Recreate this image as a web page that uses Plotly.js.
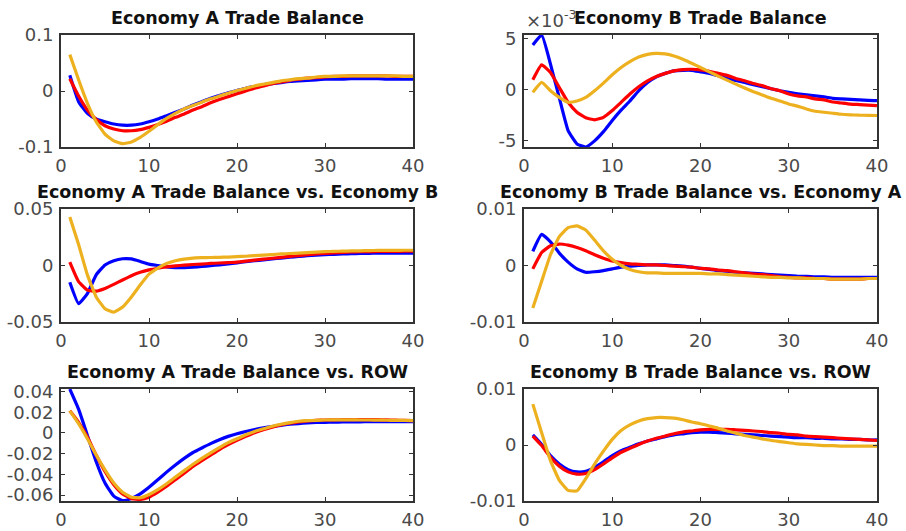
<!DOCTYPE html>
<html>
<head>
<meta charset="utf-8">
<script src="https://cdn.plot.ly/plotly-3.0.1.min.js"></script>
<style>html,body{margin:0;padding:0;background:#fff;}#chart{width:906px;height:531px;}</style>
</head>
<body>
<div id="chart"></div>
<script>
// ---- data ----
const periods = [1,2,3,4,5,6,7,8,9,10,11,12,13,14,15,16,17,18,19,20,21,22,23,24,25,26,27,28,29,30,31,32,33,34,35,36,37,38,39,40];

const panelTitles = [
  "Economy A Trade Balance",
  "Economy B Trade Balance",
  "Economy A Trade Balance vs. Economy B",
  "Economy B Trade Balance vs. Economy A",
  "Economy A Trade Balance vs. ROW",
  "Economy B Trade Balance vs. ROW"
];

// Panel 1: Economy A Trade Balance
const p1Blue = [0.028,-0.019,-0.040,-0.050,-0.055,-0.059,-0.061,-0.061,-0.059,-0.055,-0.050,-0.044,-0.038,-0.032,-0.025,-0.019,-0.013,-0.008,-0.003,0.001,0.005,0.008,0.011,0.013,0.015,0.017,0.018,0.019,0.020,0.021,0.021,0.021,0.022,0.022,0.022,0.022,0.021,0.021,0.021,0.021];
const p1Red = [0.022,-0.009,-0.034,-0.051,-0.062,-0.068,-0.071,-0.071,-0.069,-0.065,-0.060,-0.054,-0.047,-0.041,-0.034,-0.028,-0.021,-0.015,-0.010,-0.005,0.000,0.005,0.009,0.013,0.016,0.019,0.021,0.023,0.024,0.025,0.026,0.026,0.027,0.027,0.027,0.027,0.027,0.026,0.026,0.026];
const p1Orange = [0.065,0.020,-0.022,-0.055,-0.077,-0.089,-0.094,-0.091,-0.083,-0.072,-0.060,-0.049,-0.040,-0.032,-0.026,-0.020,-0.014,-0.009,-0.004,0.001,0.005,0.009,0.012,0.015,0.018,0.020,0.022,0.023,0.025,0.026,0.026,0.027,0.027,0.027,0.027,0.027,0.027,0.027,0.026,0.026];

// Panel 2: Economy B Trade Balance
const p2Blue = [0.00437,0.00535,0.0025,-0.0008,-0.0040,-0.0053,-0.0056,-0.0050,-0.0041,-0.0030,-0.0020,-0.0011,-0.0001,0.0007,0.00126,0.0016,0.00185,0.0019,0.0019,0.00175,0.0016,0.00136,0.0011,0.0009,0.0007,0.0005,0.0003,0.0001,-0.0001,-0.00026,-0.0004,-0.0005,-0.0006,-0.0007,-0.00084,-0.0009,-0.00095,-0.0010,-0.00105,-0.00107];
const p2Red = [0.00097,0.00243,0.00168,0.00022,-0.00123,-0.0022,-0.00275,-0.00294,-0.0027,-0.00204,-0.00123,-0.00042,0.00029,0.00087,0.0013,0.0016,0.00184,0.00197,0.0020,0.00194,0.0018,0.0016,0.0014,0.0011,0.00087,0.0006,0.0004,0.0001,-0.0001,-0.00042,-0.0006,-0.0007,-0.0009,-0.0010,-0.0012,-0.0013,-0.0014,-0.00145,-0.0015,-0.00155];
const p2Orange = [-0.00026,0.00071,-0.0001,-0.00075,-0.00123,-0.0011,-0.00075,-0.0001,0.00065,0.00146,0.00217,0.00275,0.0032,0.00346,0.00356,0.0035,0.0033,0.00298,0.00259,0.00217,0.00175,0.00133,0.00094,0.00055,0.00016,-0.0002,-0.00051,-0.00084,-0.0011,-0.00139,-0.0016,-0.00188,-0.0021,-0.0022,-0.0023,-0.0024,-0.00245,-0.00249,-0.0025,-0.00252];

// Panel 3: Economy A Trade Balance vs. Economy B
const p3Blue = [-0.0149,-0.0338,-0.0248,-0.0083,0.0005,0.0042,0.0060,0.0058,0.0036,0.0012,0.0000,-0.0012,-0.0018,-0.0018,-0.0015,-0.0009,-0.0002,0.0006,0.0015,0.0024,0.0033,0.0042,0.0050,0.0058,0.0066,0.0073,0.0080,0.0087,0.0092,0.0096,0.0099,0.0102,0.0104,0.0106,0.0108,0.0109,0.0110,0.0110,0.0110,0.0110];
const p3Red = [0.0030,-0.0143,-0.0218,-0.0227,-0.0203,-0.0167,-0.0128,-0.0090,-0.0060,-0.0039,-0.0024,-0.0012,-0.0003,0.0003,0.0009,0.0013,0.0018,0.0022,0.0026,0.0030,0.0039,0.0048,0.0056,0.0064,0.0072,0.0080,0.0088,0.0096,0.0102,0.0108,0.0112,0.0116,0.0120,0.0122,0.0123,0.0124,0.0125,0.0125,0.0126,0.0126];
const p3Orange = [0.0430,0.0186,-0.0083,-0.0278,-0.0382,-0.0413,-0.0368,-0.0278,-0.0173,-0.0077,-0.0023,0.0018,0.0042,0.0057,0.0066,0.0069,0.0071,0.0072,0.0075,0.0078,0.0082,0.0087,0.0092,0.0097,0.0102,0.0106,0.0110,0.0114,0.0118,0.0123,0.0125,0.0127,0.0129,0.0130,0.0132,0.0133,0.0134,0.0134,0.0135,0.0135];

// Panel 4: Economy B Trade Balance vs. Economy A
const p4Blue = [0.0025,0.0055,0.0042,0.0022,0.0006,-0.0006,-0.0012,-0.0011,-0.0009,-0.0006,-0.0003,-0.0001,0.0000,0.0001,0.0001,0.0001,0.0000,-0.0001,-0.0003,-0.0005,-0.0007,-0.0009,-0.0010,-0.0012,-0.0013,-0.0014,-0.0015,-0.0016,-0.0017,-0.0018,-0.0019,-0.0019,-0.0020,-0.0020,-0.0021,-0.0021,-0.0021,-0.0021,-0.0021,-0.0021];
const p4Red = [-0.0006,0.0023,0.0035,0.0038,0.0036,0.0032,0.0026,0.0019,0.0013,0.0008,0.0005,0.0003,0.0002,0.0001,0.0001,0.0000,-0.0001,-0.0002,-0.0003,-0.0005,-0.0006,-0.0008,-0.0009,-0.0011,-0.0013,-0.0015,-0.0016,-0.0018,-0.0020,-0.0021,-0.0022,-0.0022,-0.0023,-0.0023,-0.0024,-0.0024,-0.0024,-0.0024,-0.0023,-0.0023];
const p4Orange = [-0.0075,-0.0028,0.0019,0.0051,0.0067,0.0070,0.0063,0.0045,0.0026,0.0011,0.0000,-0.0007,-0.0011,-0.0013,-0.0013,-0.0014,-0.0014,-0.0014,-0.0014,-0.0014,-0.0015,-0.0015,-0.0016,-0.0017,-0.0018,-0.0019,-0.0020,-0.0021,-0.0021,-0.0022,-0.0022,-0.0023,-0.0023,-0.0023,-0.0024,-0.0024,-0.0024,-0.0024,-0.0023,-0.0023];

// Panel 5: Economy A Trade Balance vs. ROW
const p5Blue = [0.0425,0.0230,-0.0024,-0.0278,-0.0484,-0.0611,-0.0655,-0.0633,-0.0589,-0.0525,-0.0452,-0.0379,-0.0310,-0.0246,-0.0189,-0.0145,-0.0103,-0.0065,-0.0033,-0.0008,0.0014,0.0033,0.0049,0.0062,0.0074,0.0084,0.0091,0.0097,0.0101,0.0103,0.0105,0.0106,0.0107,0.0108,0.0109,0.0109,0.0109,0.0109,0.0109,0.0109];
const p5Red = [0.0214,0.0103,-0.0040,-0.0214,-0.0373,-0.0500,-0.0589,-0.0636,-0.0643,-0.0621,-0.0573,-0.0516,-0.0452,-0.0389,-0.0325,-0.0268,-0.0214,-0.0160,-0.0113,-0.0071,-0.0033,0.0002,0.0031,0.0056,0.0078,0.0094,0.0106,0.0116,0.0121,0.0125,0.0127,0.0128,0.0129,0.0129,0.0129,0.0128,0.0126,0.0124,0.0122,0.0120];
const p5Orange = [0.0214,0.0090,-0.0056,-0.0214,-0.0357,-0.0484,-0.0573,-0.0621,-0.0627,-0.0595,-0.0548,-0.0491,-0.0427,-0.0364,-0.0303,-0.0246,-0.0192,-0.0141,-0.0094,-0.0056,-0.0017,0.0014,0.0040,0.0065,0.0084,0.0100,0.0113,0.0119,0.0122,0.0125,0.0126,0.0126,0.0126,0.0125,0.0125,0.0124,0.0123,0.0122,0.0121,0.0120];

// Panel 6: Economy B Trade Balance vs. ROW
const p6Blue = [0.0018,0.0001,-0.0019,-0.0034,-0.0044,-0.0048,-0.0047,-0.0040,-0.0030,-0.0019,-0.0010,-0.0004,0.0002,0.0007,0.0011,0.0015,0.0018,0.0020,0.0022,0.0023,0.0023,0.0022,0.0021,0.0020,0.0019,0.0018,0.0017,0.0016,0.0015,0.0014,0.0013,0.0013,0.0012,0.0012,0.0011,0.0011,0.0010,0.0010,0.0009,0.0009];
const p6Red = [0.0016,-0.0001,-0.0022,-0.0038,-0.0048,-0.0052,-0.0051,-0.0044,-0.0034,-0.0023,-0.0013,-0.0006,0.0001,0.0007,0.0012,0.0016,0.0020,0.0023,0.0025,0.0027,0.0028,0.0028,0.0028,0.0027,0.0026,0.0025,0.0024,0.0022,0.0021,0.0019,0.0018,0.0016,0.0015,0.0014,0.0013,0.0012,0.0011,0.0010,0.0009,0.0008];
const p6Orange = [0.0073,0.0022,-0.0028,-0.0063,-0.0081,-0.0082,-0.0060,-0.0034,-0.0011,0.0010,0.0026,0.0036,0.0043,0.0047,0.0049,0.0049,0.0048,0.0045,0.0041,0.0038,0.0034,0.0030,0.0025,0.0021,0.0017,0.0014,0.0011,0.0008,0.0006,0.0004,0.0002,0.0001,0.0000,-0.0001,-0.0001,-0.0002,-0.0002,-0.0002,-0.0002,-0.0002];

// tick labels
const xTickVals = [0,10,20,30,40];
const xTickText = ["0","10","20","30","40"];
const y1TickVals = [-0.1,0,0.1];       const y1TickText = ["-0.1","0","0.1"];
const y2TickVals = [-0.005,0,0.005];   const y2TickText = ["-5","0","5"];
const y3TickVals = [-0.05,0,0.05];     const y3TickText = ["-0.05","0","0.05"];
const y4TickVals = [-0.01,0,0.01];     const y4TickText = ["-0.01","0","0.01"];
const y5TickVals = [-0.06,-0.04,-0.02,0,0.02,0.04]; const y5TickText = ["-0.06","-0.04","-0.02","0","0.02","0.04"];
const y6TickVals = [-0.01,0,0.01];     const y6TickText = ["-0.01","0","0.01"];
const exponentLabel = "×10<sup>-3</sup>";

// ---- build ----
const W = 906, H = 531;
const colors = ["#0000FF", "#FF0000", "#EDB120"];
const series = [
  [p1Blue, p1Red, p1Orange],
  [p2Blue, p2Red, p2Orange],
  [p3Blue, p3Red, p3Orange],
  [p4Blue, p4Red, p4Orange],
  [p5Blue, p5Red, p5Orange],
  [p6Blue, p6Red, p6Orange]
];
const yTicks = [
  [y1TickVals, y1TickText, [-0.1, 0.1]],
  [y2TickVals, y2TickText, [-0.0056, 0.00535]],
  [y3TickVals, y3TickText, [-0.05, 0.05]],
  [y4TickVals, y4TickText, [-0.01, 0.01]],
  [y5TickVals, y5TickText, [-0.0658, 0.0425]],
  [y6TickVals, y6TickText, [-0.01, 0.01]]
];
const colPx = [[61, 413], [524, 877]];
const rowPx = [[35, 147], [209, 322], [389, 501]];

const traces = [];
const layout = {
  width: W, height: H,
  margin: {l: 0, r: 0, t: 0, b: 0},
  paper_bgcolor: "#ffffff", plot_bgcolor: "#ffffff",
  showlegend: false,
  font: {family: "DejaVu Sans, Liberation Sans, sans-serif", size: 18, color: "#4a4a4a"},
  annotations: []
};

for (let i = 0; i < 6; i++) {
  const col = i % 2, row = Math.floor(i / 2);
  const n = i + 1;
  const xa = "x" + (n === 1 ? "" : n), ya = "y" + (n === 1 ? "" : n);
  series[i].forEach((s, k) => {
    traces.push({x: periods, y: s, xaxis: xa, yaxis: ya, type: "scatter", mode: "lines",
      line: {color: colors[k], width: 3.2, shape: "spline", smoothing: 0.4}, hoverinfo: "skip"});
  });
  const axCommon = {
    showline: true, linecolor: "#333333", linewidth: 2, mirror: "ticks",
    ticks: "inside", ticklen: 4, tickwidth: 1, tickcolor: "#333333",
    showgrid: false, zeroline: false, fixedrange: true,
    tickfont: {family: "DejaVu Sans, sans-serif", size: 18, color: "#4a4a4a"}
  };
  layout["xaxis" + (n === 1 ? "" : n)] = Object.assign({}, axCommon, {
    domain: [colPx[col][0] / W, colPx[col][1] / W], anchor: ya,
    range: [0, 40], tickmode: "array", tickvals: xTickVals, ticktext: xTickText,
    ticklabelstandoff: 1
  });
  layout["yaxis" + (n === 1 ? "" : n)] = Object.assign({}, axCommon, {
    domain: [1 - rowPx[row][1] / H, 1 - rowPx[row][0] / H], anchor: xa,
    range: yTicks[i][2], tickmode: "array", tickvals: yTicks[i][0], ticktext: yTicks[i][1],
    ticklabelstandoff: 2
  });
  layout.annotations.push({
    text: "<b>" + panelTitles[i] + "</b>", xref: "paper", yref: "paper",
    x: (colPx[col][0] + colPx[col][1]) / 2 / W, y: 1 - (rowPx[row][0] - 17) / H,
    xanchor: "center", yanchor: "middle", showarrow: false,
    font: {family: "DejaVu Sans, sans-serif", size: 17.5, color: "#111111"}
  });
}
layout.annotations.push({
  text: exponentLabel, xref: "paper", yref: "paper",
  x: colPx[1][0] / W, y: 1 - (rowPx[0][0] - 2) / H, xanchor: "left", yanchor: "bottom",
  showarrow: false, font: {family: "DejaVu Sans, sans-serif", size: 18, color: "#4a4a4a"}
});

Plotly.newPlot("chart", traces, layout, {staticPlot: true, displayModeBar: false});
</script>
</body>
</html>
